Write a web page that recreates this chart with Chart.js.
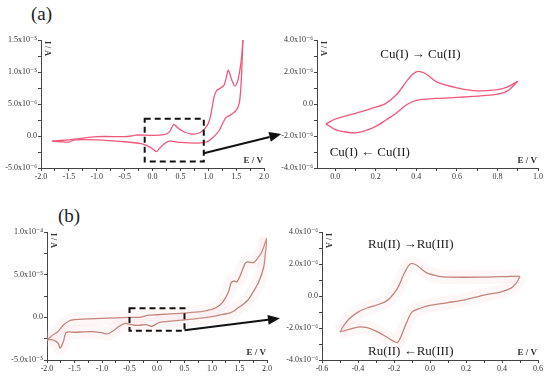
<!DOCTYPE html>
<html>
<head>
<meta charset="utf-8">
<script src="https://cdn.jsdelivr.net/npm/chart.js@4.4.1/dist/chart.umd.min.js"></script>
<style>
body { margin: 0; background: #fff; }
#wrap { position: relative; width: 550px; height: 377px; overflow: hidden; background: #fff; }
canvas { position: absolute; }
.tag { position: absolute; font: 19px "Liberation Serif", "DejaVu Serif", serif; color: #222; }
</style>
</head>
<body>
<div id="wrap">
  <div class="tag" style="left:31px;top:3px">(a)</div>
  <div class="tag" style="left:58px;top:205px">(b)</div>
  <canvas id="a1" width="290" height="160" style="left:0;top:30px"></canvas>
  <canvas id="a2" width="275" height="160" style="left:275px;top:30px"></canvas>
  <canvas id="b1" width="290" height="160" style="left:0;top:222px"></canvas>
  <canvas id="b2" width="275" height="160" style="left:275px;top:222px"></canvas>
</div>
<script>
// ====================
// data: E in V, I in µA (1e-6 A)
// ====================
// (a) full scan
const a1FwdE = [-1.8, -1.5, -1.4, -1.0, -0.5, -0.38, -0.3, 0.0, 0.2, 0.3, 0.38, 0.45, 0.55, 0.7, 0.85, 0.985, 1.045, 1.105, 1.15, 1.22, 1.28, 1.32, 1.36, 1.42, 1.48, 1.54, 1.6, 1.62];
const a1FwdI = [-0.8, -0.6, -0.5, -0.1, -0.1, 0.0, 0.15, 0.1, 0.2, 0.6, 1.8, 1.3, 0.7, 0.3, 0.5, 1.7, 3.3, 6.1, 7.1, 7.5, 7.9, 9.0, 10.3, 8.8, 7.8, 9.0, 12.4, 15.0];
const a1RevE = [1.62, 1.6, 1.58, 1.555, 1.5, 1.4, 1.32, 1.26, 1.2, 1.1, 0.98, 0.8, 0.5, 0.3, 0.2, 0.12, 0.07, 0.0, -0.1, -0.2, -0.5, -1.0, -1.4, -1.5, -1.65, -1.8];
const a1RevI = [15.0, 10.0, 7.0, 5.1, 4.0, 3.3, 2.9, 2.0, 0.9, -0.1, -0.9, -1.1, -1.0, -0.8, -1.3, -2.0, -2.45, -2.0, -1.5, -1.2, -0.9, -0.6, -0.6, -0.95, -0.9, -0.8];
// (a) Cu(I)/Cu(II) zoom
const a2FwdE = [-0.046, 0.0, 0.1, 0.2, 0.25, 0.3, 0.35, 0.38, 0.41, 0.45, 0.5, 0.6, 0.7, 0.8, 0.85, 0.9];
const a2FwdI = [-1.24, -0.95, -0.58, -0.2, 0.04, 0.56, 1.38, 1.85, 2.04, 1.86, 1.38, 1.01, 0.82, 0.9, 1.07, 1.42];
const a2RevE = [0.9, 0.85, 0.8, 0.7, 0.6, 0.5, 0.4, 0.35, 0.3, 0.25, 0.2, 0.15, 0.1, 0.05, 0.0, -0.046];
const a2RevI = [1.42, 0.82, 0.62, 0.49, 0.41, 0.35, 0.22, -0.06, -0.58, -1.0, -1.4, -1.67, -1.81, -1.75, -1.6, -1.24];
// (b) full scan
const b1FwdE = [-2.0, -1.9, -1.8, -1.7, -1.6, -1.5, -1.0, -0.5, -0.3, -0.15, 0.0, 0.5, 0.8, 1.0, 1.1, 1.2, 1.3, 1.35, 1.4, 1.45, 1.52, 1.6, 1.65, 1.75, 1.8, 1.9, 1.98, 2.0];
const b1FwdI = [-26.4, -21, -16.7, -9, -4.3, -2.7, -1.2, 0, 0.2, 2.7, 3.0, 5.0, 6.6, 9.3, 12.4, 18.2, 30, 40.7, 42.6, 41.5, 50, 63, 65, 64, 66.7, 76, 90, 93];
const b1RevE = [2.0, 1.97, 1.94, 1.85, 1.75, 1.65, 1.55, 1.5, 1.4, 1.3, 1.2, 1.0, 0.5, 0.05, -0.1, -0.2, -0.35, -0.5, -0.58, -0.7, -0.8, -0.9, -1.0, -1.2, -1.5, -1.65, -1.7, -1.76, -1.8, -1.9, -2.0];
const b1RevI = [93, 75, 59, 41.5, 30, 20, 14.3, 12.4, 7.4, 4.7, 3.5, 0.8, -3.0, -6.0, -10.5, -8.5, -9.5, -8.0, -7.0, -11, -16, -19.4, -18, -16.7, -17.5, -17.8, -28, -36, -30, -26.4, -26.4];
// (b) Ru(II)/Ru(III) zoom
const b2FwdE = [-0.5, -0.48, -0.45, -0.4, -0.35, -0.3, -0.25, -0.22, -0.18, -0.15, -0.12, -0.1, -0.07, -0.02, 0.05, 0.1, 0.3, 0.45, 0.5];
const b2FwdI = [-2.24, -1.87, -1.44, -1.01, -0.75, -0.58, -0.37, -0.11, 0.49, 1.25, 1.89, 2.04, 1.89, 1.46, 1.23, 1.18, 1.18, 1.23, 1.23];
const b2RevE = [0.5, 0.48, 0.45, 0.4, 0.3, 0.2, 0.1, 0.0, -0.05, -0.1, -0.13, -0.16, -0.18, -0.2, -0.25, -0.3, -0.35, -0.4, -0.45, -0.5];
const b2RevI = [1.23, 0.82, 0.49, 0.28, 0.06, -0.22, -0.41, -0.58, -0.75, -1.01, -1.66, -2.5, -2.9, -2.84, -2.5, -2.19, -1.98, -1.94, -2.09, -2.24];

// ====================
// ticks
// ====================
const wideXTicks = [-2, -1.75, -1.5, -1.25, -1, -0.75, -0.5, -0.25, 0, 0.25, 0.5, 0.75, 1, 1.25, 1.5, 1.75, 2];
const wideXLabels = ['-2.0', '', '-1.5', '', '-1.0', '', '-0.5', '', '0.0', '', '0.5', '', '1.0', '', '1.5', '', '2.0'];
const a1YTicks = [-5, -2.5, 0, 2.5, 5, 7.5, 10, 12.5, 15];
const a1YLabels = ['-5.0x10⁻⁶', '', '0.0', '', '5.0x10⁻⁶', '', '1.0x10⁻⁵', '', '1.5x10⁻⁵'];
const a2XTicks = [0, 0.1, 0.2, 0.3, 0.4, 0.5, 0.6, 0.7, 0.8, 0.9, 1.0];
const a2XLabels = ['0.0', '', '0.2', '', '0.4', '', '0.6', '', '0.8', '', '1.0'];
const zoomYTicks = [-4, -3, -2, -1, 0, 1, 2, 3, 4];
const zoomYLabels = ['-4.0x10⁻⁶', '', '-2.0x10⁻⁶', '', '0.0', '', '2.0x10⁻⁶', '', '4.0x10⁻⁶'];
const b1YTicks = [-50, -25, 0, 25, 50, 75, 100];
const b1YLabels = ['-5.0x10⁻⁵', '', '0.0', '', '5.0x10⁻⁵', '', '1.0x10⁻⁴'];
const b2XTicks = [-0.6, -0.5, -0.4, -0.3, -0.2, -0.1, 0, 0.1, 0.2, 0.3, 0.4, 0.5, 0.6];
const b2XLabels = ['-0.6', '', '-0.4', '', '-0.2', '', '0.0', '', '0.2', '', '0.4', '', '0.6'];

const pinkLine = '#f2577a';
const brownLine = '#b8766a';
const serif = '"Liberation Serif", "DejaVu Serif", serif';

function pts(xs, ys) {
    return xs.map((x, i) => ({ x: x, y: ys[i] }));
}

// ====================
// 枠・矢印・注記
// ====================
const decor = {
    id: 'decor',
    afterDraw(chart, args, o) {
        const { ctx, chartArea: ca, scales } = chart;
        const sx = scales.x, sy = scales.y;
        ctx.save();
        ctx.fillStyle = '#333';
        // I / A
        ctx.save();
        ctx.font = 'bold 8px ' + serif;
        ctx.translate(ca.left + 6, ca.top + 1);
        ctx.rotate(Math.PI / 2);
        ctx.textAlign = 'left';
        ctx.textBaseline = 'middle';
        ctx.fillText('I / A', 0, 0);
        ctx.restore();
        // E / V
        ctx.font = 'bold 9px ' + serif;
        ctx.textAlign = 'right';
        ctx.textBaseline = 'bottom';
        ctx.fillText('E / V', ca.right - 1, ca.bottom - 3);

        if (o.box) {
            const x0 = sx.getPixelForValue(o.box[0]), x1 = sx.getPixelForValue(o.box[1]);
            const y0 = sy.getPixelForValue(o.box[2]), y1 = sy.getPixelForValue(o.box[3]);
            ctx.strokeStyle = '#111';
            ctx.lineWidth = 2;
            ctx.setLineDash([6, 4]);
            ctx.strokeRect(x0, y1, x1 - x0, y0 - y1);
            ctx.setLineDash([]);
        }
        if (o.arrow) {
            const ax = sx.getPixelForValue(o.arrow[0]), ay = sy.getPixelForValue(o.arrow[1]);
            const bx = sx.getPixelForValue(o.arrow[2]), by = sy.getPixelForValue(o.arrow[3]);
            const ang = Math.atan2(by - ay, bx - ax);
            const hl = 12, hw = 5;
            const hx = bx - hl * Math.cos(ang), hy = by - hl * Math.sin(ang);
            ctx.strokeStyle = '#111';
            ctx.lineWidth = 2;
            ctx.beginPath();
            ctx.moveTo(ax, ay);
            ctx.lineTo(hx, hy);
            ctx.stroke();
            ctx.fillStyle = '#111';
            ctx.beginPath();
            ctx.moveTo(bx, by);
            ctx.lineTo(hx - hw * Math.sin(ang), hy + hw * Math.cos(ang));
            ctx.lineTo(hx + hw * Math.sin(ang), hy - hw * Math.cos(ang));
            ctx.closePath();
            ctx.fill();
        }
        if (o.notes) {
            ctx.fillStyle = '#222';
            ctx.font = '13px ' + serif;
            ctx.textAlign = 'center';
            ctx.textBaseline = 'middle';
            o.notes.forEach(n => {
                ctx.fillText(n.text, sx.getPixelForValue(n.e), sy.getPixelForValue(n.i));
            });
        }
        ctx.restore();
    }
};

function makeChart(id, c) {
    const datasets = [];
    if (c.glow) {
        // faint pink haze behind the (b) traces
        [[c.fE, c.fI], [c.rE, c.rI]].forEach(b => {
            datasets.push({
                data: pts(b[0], b[1]),
                borderColor: 'rgba(248, 205, 214, 0.16)',
                borderWidth: 14,
                tension: 0.3
            });
        });
    }
    datasets.push({ data: pts(c.fE, c.fI), borderColor: c.color, borderWidth: 1.3, tension: 0.3 });
    datasets.push({ data: pts(c.rE, c.rI), borderColor: c.color, borderWidth: 1.3, tension: 0.3 });

    const tickFont = { family: serif, size: 8 };
    return new Chart(document.getElementById(id), {
        type: 'scatter',
        data: { datasets: datasets },
        options: {
            responsive: false,
            animation: false,
            devicePixelRatio: 1,
            showLine: true,
            elements: { point: { radius: 0 } },
            layout: { padding: { top: 10, right: c.padR, left: 0, bottom: 0 } },
            plugins: {
                legend: { display: false },
                tooltip: { enabled: false },
                decor: { box: c.box, arrow: c.arrow, notes: c.notes }
            },
            scales: {
                x: {
                    type: 'linear',
                    min: c.xMin,
                    max: c.xMax,
                    afterBuildTicks: s => { s.ticks = c.xt.map(v => ({ value: v })); },
                    afterFit: s => { s.height = 22; },
                    ticks: {
                        autoSkip: false,
                        maxRotation: 0,
                        padding: 1,
                        font: tickFont,
                        color: '#333',
                        callback: (v, i) => c.xl[i]
                    },
                    grid: { drawOnChartArea: false, tickLength: 3, color: '#444' },
                    border: { color: '#444', width: 1 }
                },
                y: {
                    type: 'linear',
                    min: c.yMin,
                    max: c.yMax,
                    afterBuildTicks: s => { s.ticks = c.yt.map(v => ({ value: v })); },
                    afterFit: s => { s.width = c.yW; },
                    ticks: {
                        autoSkip: false,
                        padding: 1,
                        font: tickFont,
                        color: '#333',
                        callback: (v, i) => c.yl[i]
                    },
                    grid: { drawOnChartArea: false, tickLength: 3, color: '#444' },
                    border: { color: '#444', width: 1 }
                }
            }
        },
        plugins: [decor]
    });
}

makeChart('a1', {
    fE: a1FwdE, fI: a1FwdI, rE: a1RevE, rI: a1RevI, color: pinkLine,
    xMin: -2, xMax: 2, yMin: -5, yMax: 15,
    xt: wideXTicks, xl: wideXLabels, yt: a1YTicks, yl: a1YLabels,
    yW: 41, padR: 26,
    box: [-0.14, 0.92, -4.0, 2.7],
    arrow: [0.92, -2.7, 2.31, 0.3]
});

makeChart('a2', {
    fE: a2FwdE, fI: a2FwdI, rE: a2RevE, rI: a2RevI, color: pinkLine,
    xMin: -0.09, xMax: 1.0, yMin: -4, yMax: 4,
    xt: a2XTicks, xl: a2XLabels, yt: zoomYTicks, yl: zoomYLabels,
    yW: 42, padR: 12,
    notes: [
        { text: 'Cu(I) → Cu(II)', e: 0.42, i: 3.06 },
        { text: 'Cu(I) ← Cu(II)', e: 0.17, i: -3.06 }
    ]
});

makeChart('b1', {
    fE: b1FwdE, fI: b1FwdI, rE: b1RevE, rI: b1RevI, color: brownLine, glow: true,
    xMin: -2, xMax: 2, yMin: -50, yMax: 100,
    xt: wideXTicks, xl: wideXLabels, yt: b1YTicks, yl: b1YLabels,
    yW: 47, padR: 23,
    box: [-0.5, 0.5, -15.7, 10.5],
    arrow: [0.5, -15.2, 2.236, -1.2]
});

makeChart('b2', {
    fE: b2FwdE, fI: b2FwdI, rE: b2RevE, rI: b2RevI, color: brownLine, glow: true,
    xMin: -0.6, xMax: 0.6, yMin: -4, yMax: 4,
    xt: b2XTicks, xl: b2XLabels, yt: zoomYTicks, yl: zoomYLabels,
    yW: 47, padR: 12,
    notes: [
        { text: 'Ru(II) →Ru(III)', e: -0.107, i: 3.19 },
        { text: 'Ru(II) ←Ru(III)', e: -0.107, i: -3.5 }
    ]
});
</script>
</body>
</html>
